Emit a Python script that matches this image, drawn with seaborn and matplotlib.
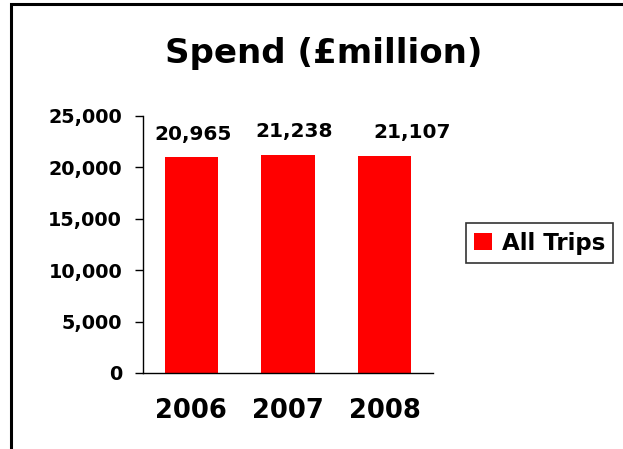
import matplotlib
matplotlib.use("Agg")
import matplotlib.pyplot as plt
from matplotlib.patches import Rectangle, Patch
import seaborn as sns
import pandas as pd

years = ["2006", "2007", "2008"]
spend = [20965, 21238, 21107]
series_name = "All Trips"
title = "Spend (£million)"
yticks = [0, 5000, 10000, 15000, 20000, 25000]

df = pd.DataFrame({"Year": years, "Spend": spend})

sns.set_theme(style="white")
plt.rcParams["font.family"] = ["DejaVu Sans"]
plt.rcParams["font.weight"] = "bold"
plt.rcParams["text.color"] = "black"
plt.rcParams["xtick.color"] = "black"
plt.rcParams["ytick.color"] = "black"

fig = plt.figure(figsize=(6.23, 4.49), dpi=100)
fig.patch.set_facecolor("white")

# outer chart border (open on the right and bottom, as the frame runs off the canvas)
fig.add_artist(Rectangle((11 / 623, -0.05), 1.2, 1 - 4 / 449 + 0.05,
                         transform=fig.transFigure, fill=False,
                         edgecolor="black", linewidth=2.2))

ax = fig.add_axes([143 / 623, 76 / 449, 290 / 623, 257 / 449])
sns.barplot(data=df, x="Year", y="Spend", color="#ff0000", saturation=1,
            width=0.55, ax=ax)
for p in ax.patches:
    p.set_edgecolor("none")

ax.set_ylim(0, 25000)
ax.set_yticks(yticks)
ax.set_yticklabels([f"{v:,}" for v in yticks], fontsize=13.8, fontweight="bold")
ax.set_xticks(range(len(years)))
ax.set_xticklabels(years, fontsize=18.5, fontweight="bold")
ax.set_xlabel("")
ax.set_ylabel("")
ax.tick_params(axis="y", direction="out", length=6, width=1, color="black",
               left=True, pad=9, labelcolor="black")
ax.tick_params(axis="x", length=0, pad=18, labelcolor="black")
for side in ["top", "right"]:
    ax.spines[side].set_visible(False)
for side in ["left", "bottom"]:
    ax.spines[side].set_color("black")
    ax.spines[side].set_linewidth(1)

# value labels above the bars
label_nudge = [2, 6, 27]
for i, v in enumerate(spend):
    ax.annotate(f"{v:,}", xy=(i, v), xytext=(label_nudge[i] * 0.72, 10),
                textcoords="offset points", ha="center", va="bottom",
                fontsize=14.5, fontweight="bold", color="black")

fig.text(324 / 623, 1 - 54 / 449, title, ha="center", va="center",
         fontsize=24.5, fontweight="bold", color="black")

leg = fig.legend(handles=[Patch(facecolor="#ff0000", edgecolor="none", label=series_name)],
                 loc="center", bbox_to_anchor=(539.5 / 623, 1 - 243 / 449),
                 frameon=True, fancybox=False, handlelength=0.8,
                 handleheight=0.8, handletextpad=0.4, borderpad=0.35,
                 borderaxespad=0, labelcolor="black",
                 prop={"weight": "bold", "size": 16.5})
leg.get_frame().set_edgecolor("black")
leg.get_frame().set_linewidth(1.2)

fig.savefig("out.png", dpi=100)
